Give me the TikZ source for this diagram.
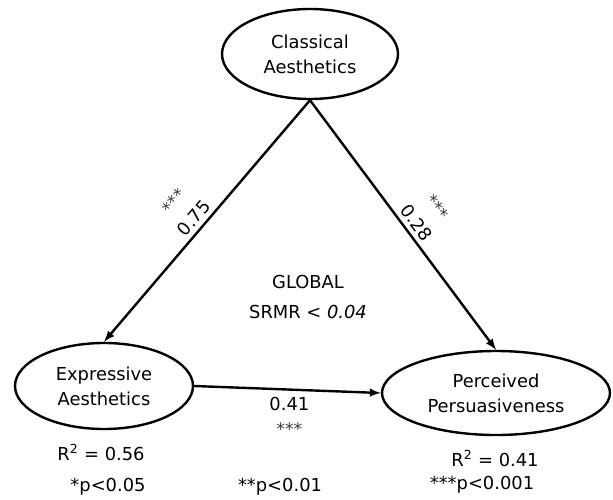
\documentclass[tikz,border=0pt]{standalone}
\usepackage{fontspec}
\setmainfont{DejaVu Sans}
\usepackage{xcolor}
\usetikzlibrary{shapes.geometric}
\definecolor{stargray}{RGB}{60,60,60}
\tikzstyle{latent}=[ellipse, draw, line width=1.8pt, align=center, inner sep=0pt]
\tikzset{effect/.style={-latex, line width=1.8pt}}
\tikzstyle{weight}=[align=center, inner sep=3pt]
\newcommand{\sigstars}{{\fontsize{13}{14}\selectfont\color{stargray}***}}

\begin{document}
\begin{tikzpicture}[x=0.75pt, y=-0.75pt, font=\fontsize{13.4}{18.75}\selectfont]
  \useasboundingbox (0,0) rectangle (613,499);

  \draw (310,54) node[latent, minimum width=132pt, minimum height=67.5pt] (CA) {Classical\\Aesthetics};
  \draw (104,386) node[latent, minimum width=133.5pt, minimum height=64.5pt] (EA) {Expressive\\Aesthetics};
  \draw (496,393) node[latent, minimum width=171pt, minimum height=63pt] (PP) {Perceived\\Persuasiveness};

  \draw[effect] (CA.south) -- (EA.north) node[weight, pos=0.52, sloped, above] (wCE) {\sigstars\\[1pt]0.75};
  \draw[effect] (CA.south) -- (PP.north) node[weight, pos=0.52, sloped, above] (wCP) {\sigstars\\[1pt]0.28};
  \draw[effect] (EA.east) -- (PP.west) node[weight, pos=0.51, below, inner sep=5pt] (wEP) {0.41\\\sigstars};

  %% Model fit
  \draw (308,282) node (glob) {GLOBAL};
  \draw (308,312) node (srmr) {SRMR < \textit{0.04}};

  %% Explained variance and legend
  \draw (101,452) node (r2EA) {R\textsuperscript{2} = 0.56};
  \draw (495,458) node (r2PP) {R\textsuperscript{2} = 0.41};
  \draw (108,487) node (sig1) {*p<0.05};
  \draw (280,487) node (sig2) {**p<0.01};
  \draw (482,485) node (sig3) {***p<0.001};
\end{tikzpicture}
\end{document}
